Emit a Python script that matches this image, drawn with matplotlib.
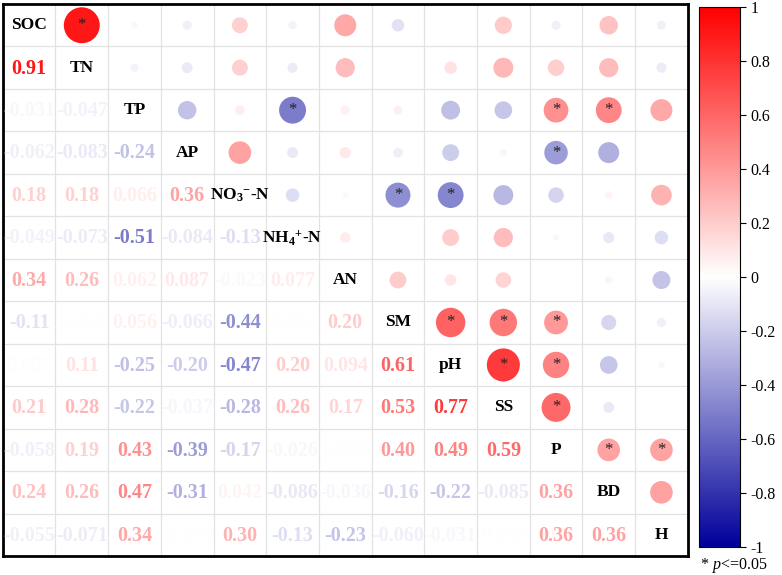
import numpy as np
import matplotlib
matplotlib.use("Agg")
import matplotlib.pyplot as plt
from matplotlib.colors import LinearSegmentedColormap, Normalize
from matplotlib.cm import ScalarMappable

plt.rcParams['font.family'] = ['Liberation Serif', 'DejaVu Serif']
plt.rcParams['mathtext.fontset'] = 'custom'
plt.rcParams['mathtext.rm'] = 'Liberation Serif:bold'
plt.rcParams['mathtext.bf'] = 'Liberation Serif:bold'
plt.rcParams['mathtext.it'] = 'Liberation Serif:italic'

labels = ["SOC", "TN", "TP", "AP", r"NO$_3$$^{-}$-N", r"NH$_4$$^{+}$-N", "AN",
          "SM", "pH", "SS", "P", "BD", "H"]

# lower-triangle rows (row i holds correlations with variables 0..i-1)
r_TN  = [0.91]
r_TP  = [-0.031, -0.047]
r_AP  = [-0.062, -0.083, -0.24]
r_NO3 = [0.18, 0.18, 0.066, 0.36]
r_NH4 = [-0.049, -0.073, -0.51, -0.084, -0.13]
r_AN  = [0.34, 0.26, 0.062, 0.087, -0.023, 0.077]
r_SM  = [-0.11, 0.004, 0.056, -0.066, -0.44, 0.003, 0.20]
r_pH  = [0.008, 0.11, -0.25, -0.20, -0.47, 0.20, 0.094, 0.61]
r_SS  = [0.21, 0.28, -0.22, -0.037, -0.28, 0.26, 0.17, 0.53, 0.77]
r_P   = [-0.058, 0.19, 0.43, -0.39, -0.17, -0.026, 0.003, 0.40, 0.49, 0.59]
r_BD  = [0.24, 0.26, 0.47, -0.31, 0.042, -0.086, -0.036, -0.16, -0.22, -0.085, 0.36]
r_H   = [-0.055, -0.071, 0.34, -0.004, 0.30, -0.13, -0.23, -0.060, -0.031, 0.002, 0.36, 0.36]

# significant pairs (p <= 0.05), as (row, col) indices
sig_pairs = [(0, 1), (2, 5), (2, 10), (2, 11), (3, 10), (4, 7), (4, 8),
             (7, 8), (7, 9), (7, 10), (8, 9), (8, 10), (9, 10), (10, 11), (10, 12)]

rows = [[], r_TN, r_TP, r_AP, r_NO3, r_NH4, r_AN, r_SM, r_pH, r_SS, r_P, r_BD, r_H]
n = len(labels)
R = np.eye(n)
for i, vals in enumerate(rows):
    for j, v in enumerate(vals):
        R[i, j] = v
        R[j, i] = v

cmap = LinearSegmentedColormap.from_list("bwr2", ["#00009A", "#FFFFFF", "#FF0000"], N=256)
norm = Normalize(-1, 1)

fig = plt.figure(figsize=(7.82, 5.75), dpi=100)
ax = fig.add_axes([0.0035, 0.033, 0.876, 0.960])
ax.set_xlim(0, n)
ax.set_ylim(n, 0)
ax.set_xticks(np.arange(1, n))
ax.set_yticks(np.arange(1, n))
ax.grid(True, color="#E2E2E2", linewidth=0.9, zorder=0)
ax.tick_params(length=0, labelbottom=False, labelleft=False)
for sp in ax.spines.values():
    sp.set_linewidth(2.0)
    sp.set_color("black")

# upper triangle circles
xs, ys, cs, ss = [], [], [], []
for i in range(n):
    for j in range(i + 1, n):
        xs.append(j + 0.5)
        ys.append(i + 0.5)
        cs.append(R[i, j])
        ss.append(736 * abs(R[i, j]))
ax.scatter(xs, ys, s=ss, c=cs, cmap=cmap, norm=norm, linewidths=0, zorder=3)

for (i, j) in sig_pairs:
    ax.text(j + 0.5, i + 0.5, "*", ha="center", va="center", fontsize=12,
            color="#222222", zorder=4)

# lower triangle numbers
def fmt(v):
    if abs(v) >= 0.1:
        return f"{v:.2f}"
    return f"{v:.3f}"

for i in range(n):
    for j in range(i):
        v = R[i, j]
        ax.text(j + 0.5, i + 0.52, fmt(v), ha="center", va="center",
                fontsize=14.5, fontweight="bold", color=cmap(norm(v)), zorder=4,
                clip_on=True)

# diagonal labels
for i in range(n):
    ax.text(i + 0.5, i + 0.5, labels[i], ha="center", va="center",
            fontsize=12.5, fontweight="bold", color="black", zorder=4)

# colorbar
cax = fig.add_axes([0.894, 0.0487, 0.0524, 0.939])
cb = fig.colorbar(ScalarMappable(norm=norm, cmap=cmap), cax=cax)
ticks = np.round(np.arange(-1, 1.01, 0.2), 1)
cb.set_ticks(ticks)
cb.set_ticklabels([("%g" % t) if t != 0 else "0" for t in ticks])
cb.outline.set_linewidth(0.8)
cax.tick_params(labelsize=11.5, length=4, width=0.8, direction="out")

fig.text(0.938, 0.016, r"* $p$<=0.05", ha="center", va="center", fontsize=11.5)

fig.savefig("out.png", dpi=100)
